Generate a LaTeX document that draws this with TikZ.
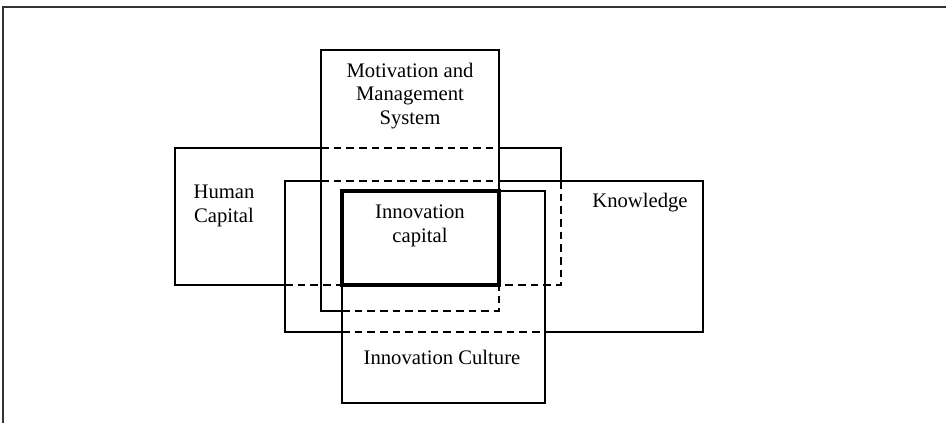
\documentclass[tikz,border=0pt]{standalone}
\usepackage{fontspec}
\setmainfont{Liberation Serif}

\begin{document}
\begin{tikzpicture}[x=0.025cm,y=-0.025cm,line width=0.9pt,
  hidden/.style={dash pattern=on 5.5pt off 3.5pt},
  corebox/.style={line width=2.4pt},
  lbl/.style={align=center,inner sep=0pt,font=\fontsize{14.7}{16.6}\selectfont}]
\useasboundingbox (0,0) rectangle (946,423);
% outer frame (top and left edge only)
\draw[line width=1.1pt,black!80] (3,423) -- (3,7) -- (946,7);
% motivation and management system
\draw (342,311) -- (321,311) -- (321,50) -- (499,50) -- (499,191);
\draw[hidden] (342,311) -- (499,311) -- (499,285);
% human capital
\draw (321,148) -- (175,148) -- (175,285) -- (285,285);
\draw[hidden] (285,285) -- (342,285);
\draw[hidden] (321,148) -- (499,148);
\draw (499,148) -- (561,148) -- (561,181);
\draw[hidden] (561,181) -- (561,285) -- (499,285);
% knowledge
\draw (321,181) -- (285,181) -- (285,332) -- (342,332);
\draw[hidden] (321,181) -- (499,181);
\draw[hidden] (342,332) -- (545,332);
\draw (499,181) -- (703,181) -- (703,332) -- (545,332);
% innovation culture
\draw (499,191) -- (545,191) -- (545,403) -- (342,403) -- (342,285);
% innovation capital
\draw[corebox] (342,191) rectangle (499,285);
% labels
\node[lbl] (mot)  at (410,96)  {Motivation and\\Management\\System};
\node[lbl] (hum)  at (224,206) {Human\\Capital};
\node[lbl] (know) at (640,203) {Knowledge};
\node[lbl] (cap)  at (420,226) {Innovation\\capital};
\node[lbl] (cult) at (442,357) {Innovation Culture};
\end{tikzpicture}
\end{document}
